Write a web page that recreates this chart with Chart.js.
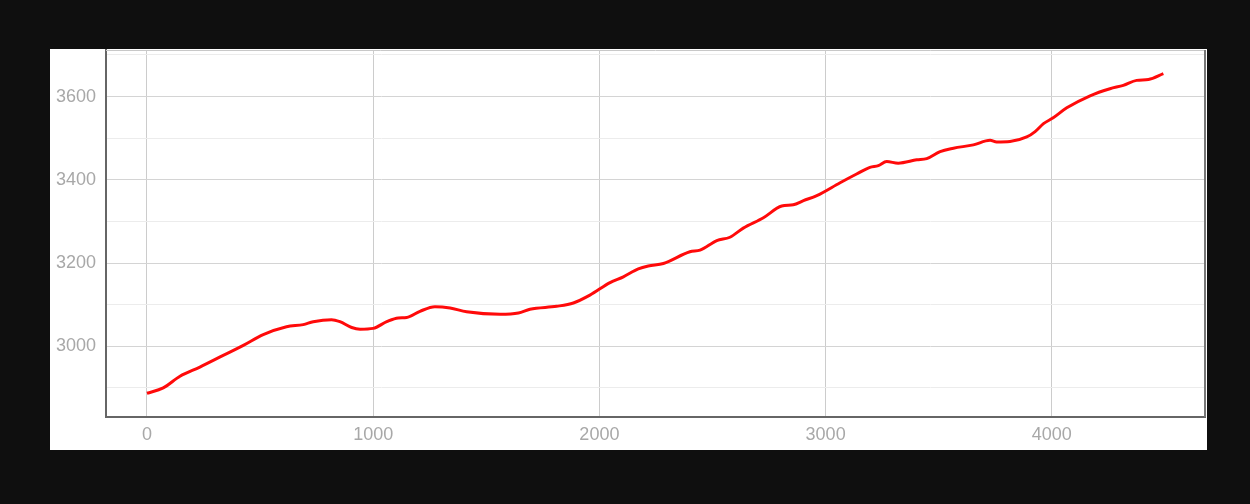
<!DOCTYPE html>
<html>
<head>
<meta charset="utf-8">
<script src="https://cdn.jsdelivr.net/npm/chart.js@4/dist/chart.umd.min.js"></script>
<style>
  html, body { margin: 0; padding: 0; background: #0f0f0f; width: 1250px; height: 504px; overflow: hidden; }
  #panel { position: absolute; left: 50px; top: 49px; width: 1157px; height: 401px; background: #ffffff; }
  canvas { display: block; }
</style>
</head>
<body>
<div id="panel"><canvas id="c" width="1157" height="401"></canvas></div>
<script>
const xValues = [0, 72, 146, 234, 337, 426, 514, 617, 691, 735, 816, 853, 905, 942, 1000, 1060, 1111, 1148, 1207, 1273, 1340, 1413, 1561, 1642, 1693, 1811, 1885, 1958, 2047, 2106, 2172, 2216, 2283, 2400, 2445, 2519, 2577, 2636, 2725, 2806, 2857, 2902, 2961, 3064, 3137, 3196, 3233, 3270, 3321, 3403, 3447, 3506, 3565, 3653, 3727, 3756, 3815, 3889, 3926, 3963, 4006, 4066, 4169, 4257, 4316, 4375, 4427, 4493];
const yValues = [2887, 2900, 2928, 2950, 2978, 3002, 3028, 3047, 3052, 3059, 3064, 3059, 3045, 3041, 3043, 3059, 3068, 3069, 3084, 3095, 3092, 3083, 3077, 3080, 3089, 3096, 3104, 3123, 3153, 3167, 3186, 3193, 3199, 3227, 3231, 3254, 3262, 3284, 3309, 3337, 3340, 3350, 3362, 3393, 3414, 3430, 3434, 3444, 3440, 3448, 3451, 3468, 3476, 3484, 3495, 3491, 3492, 3503, 3516, 3535, 3549, 3573, 3602, 3619, 3627, 3639, 3641, 3655];
const xTicks = [0, 1000, 2000, 3000, 4000];
const yGridTicks = [2900, 3000, 3100, 3200, 3300, 3400, 3500, 3600, 3700];
const yLabelTicks = [3000, 3200, 3400, 3600];

const points = xValues.map((x, i) => ({ x: x, y: yValues[i] }));

const framePlugin = {
  id: 'frame',
  afterDraw(chart) {
    const { ctx, chartArea: a } = chart;
    ctx.save();
    ctx.strokeStyle = '#c8c8c8';
    ctx.lineWidth = 1;
    ctx.beginPath();
    ctx.moveTo(a.left, a.top + 0.5);
    ctx.lineTo(a.right, a.top + 0.5);
    ctx.stroke();
    ctx.strokeStyle = '#777777';
    ctx.lineWidth = 2;
    ctx.beginPath();
    ctx.moveTo(a.right, a.top);
    ctx.lineTo(a.right, a.bottom);
    ctx.stroke();
    ctx.restore();
  }
};

new Chart(document.getElementById('c'), {
  type: 'line',
  data: {
    datasets: [{
      data: points,
      borderColor: '#ff0a0a',
      borderWidth: 3,
      pointRadius: 0,
      fill: false,
      cubicInterpolationMode: 'monotone'
    }]
  },
  options: {
    responsive: false,
    animation: false,
    devicePixelRatio: 1,
    layout: { padding: { left: 0, top: 1, right: 2, bottom: 0 } },
    plugins: { legend: { display: false }, tooltip: { enabled: false } },
    scales: {
      x: {
        type: 'linear',
        min: -181,
        max: 4677,
        afterBuildTicks(scale) { scale.ticks = xTicks.map(v => ({ value: v })); },
        afterFit(scale) { scale.height = 33; scale.paddingLeft = 0; scale.paddingRight = 0; },
        grid: { color: '#cccccc', lineWidth: 1, drawTicks: false },
        border: { display: true, color: '#666666', width: 2 },
        ticks: {
          color: '#a8a8a8',
          font: { family: 'Liberation Sans, Arial, sans-serif', size: 18 },
          padding: 7,
          maxRotation: 0,
          callback: v => String(v)
        }
      },
      y: {
        type: 'linear',
        min: 2830,
        max: 3712,
        afterBuildTicks(scale) { scale.ticks = yGridTicks.map(v => ({ value: v })); },
        afterFit(scale) { scale.width = 56; scale.paddingTop = 0; scale.paddingBottom = 0; },
        grid: {
          color: ctx => (ctx.tick && yLabelTicks.includes(ctx.tick.value)) ? '#d4d4d4' : '#ececec',
          lineWidth: 1,
          drawTicks: false
        },
        border: { display: true, color: '#666666', width: 2 },
        ticks: {
          color: '#a8a8a8',
          font: { family: 'Liberation Sans, Arial, sans-serif', size: 18 },
          padding: 10,
          callback: v => yLabelTicks.includes(v) ? String(v) : ''
        }
      }
    }
  },
  plugins: [framePlugin]
});
</script>
</body>
</html>
